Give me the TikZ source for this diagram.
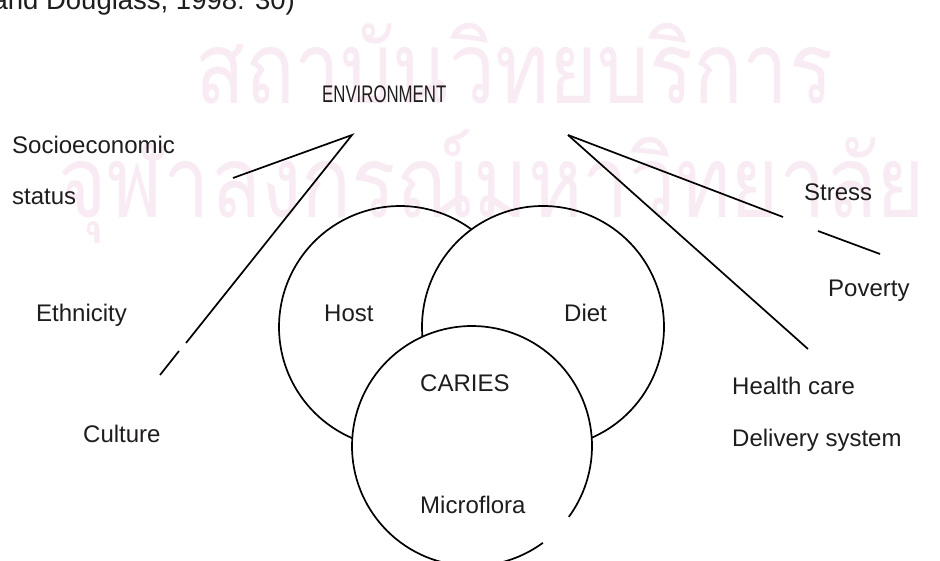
\documentclass[tikz,border=0pt]{standalone}
\usepackage{fontspec}
\setmainfont{Liberation Sans}
\newfontfamily\thaifont[Script=Thai]{Loma}
\usepackage{xcolor}
\definecolor{stamp}{RGB}{249,235,243}
\definecolor{ink}{RGB}{30,28,28}

\begin{document}
\begin{tikzpicture}[x=1pt,y=-1pt]
			\tikzset{lbl/.style={anchor=base west, inner sep=0pt, text=ink, font=\fontsize{24}{28}\selectfont},
				wmark/.style={anchor=base west, inner sep=0pt, text=stamp, font=\thaifont\fontsize{100}{110}\selectfont},
				ring/.style={line width=1.7pt, black},
				trait/.style={line width=1.7pt, black}};
			\useasboundingbox (0,0) rectangle (940,561);
			\clip (0,0) rectangle (940,561);
			\node[wmark] (wm1) at (195,104) {\scalebox{0.82}[1]{สถาบันวิทยบริการ}};
			\node[wmark] (wm2) at (58,218) {\scalebox{0.83}[1]{จุฬาลงกรณ์มหาวิทยาลัย}};
			\node[lbl, anchor=base east, font=\fontsize{27.5}{30}\selectfont] (src) at (295,10) {and Douglass, 1998: 30)};
			\coordinate (hostO) at (400,327);
			\coordinate (dietO) at (543,327);
			\coordinate (cariesO) at (472,446);
			\draw[ring] (hostO) ++(-53.8:121) arc[start angle=-53.8, end angle=-246.7, radius=121];
			\draw[ring] (dietO) ++(66.2:121) arc[start angle=66.2, end angle=-184.6, radius=121];
			\draw[ring] (cariesO) ++(53.8:120) arc[start angle=53.8, end angle=396.2, radius=120];
			\node[lbl] (env) at (322,103) {\scalebox{0.7}[1]{ENVIRONMENT}};
			\coordinate (envL) at (352,135);
			\coordinate (envR) at (568,135);
			\coordinate (socioE) at (233,178);
			\coordinate (cultA) at (186,343);
			\coordinate (cultB) at (179,351);
			\coordinate (cultE) at (160,375);
			\coordinate (stressA) at (783,217);
			\coordinate (stressB) at (818,231);
			\coordinate (stressE) at (880,254);
			\coordinate (healthE) at (808,349);
			\draw[trait] (socioE) -- (envL) -- (cultA);
			\draw[trait] (cultB) -- (cultE);
			\draw[trait] (envR) -- (stressA);
			\draw[trait] (stressB) -- (stressE);
			\draw[trait] (envR) -- (healthE);
			\node[lbl] (socio) at (12,154) {Socioeconomic};
			\node[lbl] (status) at (12,205) {status};
			\node[lbl] (ethn) at (36,322) {Ethnicity};
			\node[lbl] (cult) at (83,442) {Culture};
			\node[lbl] (host) at (324,322) {Host};
			\node[lbl] (diet) at (564,322) {Diet};
			\node[lbl] (caries) at (420,391) {CARIES};
			\node[lbl] (micro) at (420,513) {Microflora};
			\node[lbl] (stress) at (804,201) {Stress};
			\node[lbl] (pov) at (828,297) {Poverty};
			\node[lbl] (health) at (732,394) {Health care};
			\node[lbl] (deliv) at (732,446) {Delivery system};
			\end{tikzpicture}
\end{document}
